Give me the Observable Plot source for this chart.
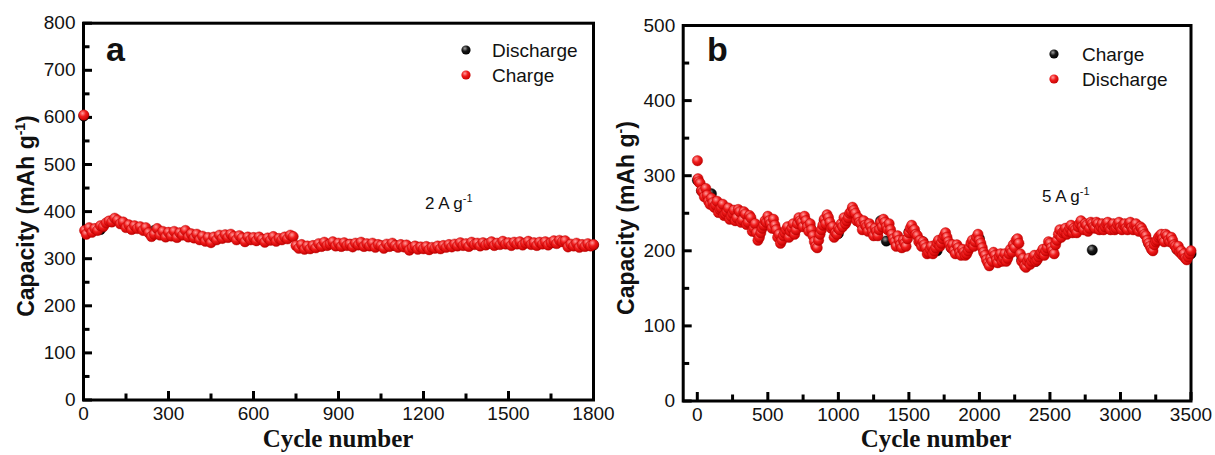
<!DOCTYPE html>
<html>
<head>
<meta charset="utf-8">
<script src="https://cdn.jsdelivr.net/npm/d3@7"></script>
<script src="https://cdn.jsdelivr.net/npm/@observablehq/plot@0.6"></script>
<style>
  body { margin: 0; background: #fff; }
  #wrap { position: relative; width: 1215px; height: 455px; overflow: hidden; background: #fff; }
  .panel { position: absolute; top: 0; }
  .panel svg text { font-size: 19px !important; font-family: 'Liberation Sans', Arial, sans-serif !important; fill: #111; }
  #ov { position: absolute; left: 0; top: 0; pointer-events: none; }
</style>
</head>
<body>
<div id="wrap">
  <div class="panel" id="pa" style="left:0px;width:620px"></div>
  <div class="panel" id="pb" style="left:607px;width:608px"></div>
  <svg id="ov" width="1215" height="455" xmlns="http://www.w3.org/2000/svg">
    <defs>
      <radialGradient id="ballR" cx="0.38" cy="0.33" r="0.7">
        <stop offset="0" stop-color="#ff9c9c"/>
        <stop offset="0.45" stop-color="#f01c1c"/>
        <stop offset="1" stop-color="#c20000"/>
      </radialGradient>
      <radialGradient id="ballK" cx="0.38" cy="0.33" r="0.7">
        <stop offset="0" stop-color="#a0a0a0"/>
        <stop offset="0.45" stop-color="#181818"/>
        <stop offset="1" stop-color="#000"/>
      </radialGradient>
    </defs>
    <g font-family="'Liberation Sans', Arial, sans-serif" fill="#111">
      <!-- panel a -->
      <text x="106" y="61" font-size="34" font-weight="bold">a</text>
      <circle cx="466" cy="50" r="4.6" fill="url(#ballK)"/>
      <circle cx="466" cy="75" r="4.6" fill="url(#ballR)"/>
      <text x="492" y="57" font-size="19">Discharge</text>
      <text x="492" y="82" font-size="19">Charge</text>
      <text x="425" y="209" font-size="17">2 A g<tspan font-size="11" dy="-7">-1</tspan></text>
      <text transform="translate(34,216) rotate(-90)" text-anchor="middle" font-size="23" font-weight="bold">Capacity (mAh g<tspan font-size="14" dy="-9">-1</tspan><tspan dy="9">)</tspan></text>
      <text x="338" y="447" text-anchor="middle" font-family="'Liberation Serif', 'Times New Roman', serif" font-size="25" font-weight="bold">Cycle number</text>
      <!-- panel b -->
      <text x="707" y="61" font-size="34" font-weight="bold">b</text>
      <circle cx="1054" cy="54" r="4.6" fill="url(#ballK)"/>
      <circle cx="1054" cy="79" r="4.6" fill="url(#ballR)"/>
      <text x="1082" y="61" font-size="19">Charge</text>
      <text x="1082" y="86" font-size="19">Discharge</text>
      <text x="1042" y="202" font-size="17">5 A g<tspan font-size="11" dy="-7">-1</tspan></text>
      <text transform="translate(634,218) rotate(-90)" text-anchor="middle" font-size="23" font-weight="bold">Capacity (mAh g<tspan font-size="14" dy="-9">-</tspan><tspan dy="9">)</tspan></text>
      <text x="936" y="447" text-anchor="middle" font-family="'Liberation Serif', 'Times New Roman', serif" font-size="25" font-weight="bold">Cycle number</text>
    </g>
  </svg>
</div>
<script>
// ---------------- Panel a (2 A g-1) ----------------
const aXTicks = [0, 300, 600, 900, 1200, 1500, 1800];
const aXMinor = [150, 450, 750, 1050, 1350, 1650];
const aYTicks = [0, 100, 200, 300, 400, 500, 600, 700, 800];
const aYMinor = [50, 150, 250, 350, 450, 550, 650, 750];

// Charge (red) in panel a
const aChargeCycles = [
  1, 4,
  10, 20, 30, 40, 50, 60, 70, 80, 90, 100,
  110, 120, 130, 140, 150, 160, 170, 180, 190, 200,
  210, 220, 230, 240, 250, 260, 270, 280, 290, 300,
  310, 320, 330, 340, 350, 360, 370, 380, 390, 400,
  410, 420, 430, 440, 450, 460, 470, 480, 490, 500,
  510, 520, 530, 540, 550, 560, 570, 580, 590, 600,
  610, 620, 630, 640, 650, 660, 670, 680, 690, 700,
  710, 720, 730, 740, 750, 760, 770, 780, 790, 800,
  810, 820, 830, 840, 850, 860, 870, 880, 890, 900,
  910, 920, 930, 940, 950, 960, 970, 980, 990, 1000,
  1010, 1020, 1030, 1040, 1050, 1060, 1070, 1080, 1090, 1100,
  1110, 1120, 1130, 1140, 1150, 1160, 1170, 1180, 1190, 1200,
  1210, 1220, 1230, 1240, 1250, 1260, 1270, 1280, 1290, 1300,
  1310, 1320, 1330, 1340, 1350, 1360, 1370, 1380, 1390, 1400,
  1410, 1420, 1430, 1440, 1450, 1460, 1470, 1480, 1490, 1500,
  1510, 1520, 1530, 1540, 1550, 1560, 1570, 1580, 1590, 1600,
  1610, 1620, 1630, 1640, 1650, 1660, 1670, 1680, 1690, 1700,
  1710, 1720, 1730, 1740, 1750, 1760, 1770, 1780, 1790, 1800];
const aCharge = [
  605, 360,
  352, 366, 356, 364, 360, 370, 368, 376, 380, 378,
  386, 382, 374, 378, 366, 372, 362, 370, 364, 368,
  360, 366, 355, 347, 352, 364, 350, 358, 346, 356,
  348, 358, 345, 355, 350, 360, 346, 353, 344, 352,
  340, 348, 337, 345, 334, 346, 340, 350, 343, 351,
  345, 352, 347, 340, 349, 344, 336, 346, 340, 345,
  338, 346, 341, 335, 344, 339, 347, 337, 343, 340,
  346, 342, 350, 347, 328, 322, 330, 320, 327, 321,
  328, 323, 332, 326, 335, 328, 331, 336, 327, 333,
  326, 334, 328, 331, 325, 333, 329, 335, 326, 332,
  327, 333, 324, 330, 328, 322, 331, 326, 333, 328,
  324, 330, 325, 329, 318, 323, 327, 320, 325, 321,
  326, 319, 324, 322, 327, 321, 328, 324, 330, 325,
  331, 327, 334, 328, 332, 326, 335, 330, 333, 327,
  334, 329, 332, 336, 328, 333, 330, 337, 331, 334,
  328, 335, 331, 336, 329, 333, 337, 330, 334, 328,
  335, 331, 336, 329, 334, 338, 332, 339, 336, 338,
  325, 331, 327, 333, 324, 330, 326, 332, 327, 330];

// Discharge (black) in panel a, mostly hidden under the red points
const aDischargeCycles = [1, 20, 60, 100, 140, 180, 250, 320, 400, 480,
  560, 640, 720, 780, 860, 940, 1020, 1100, 1180, 1260,
  1340, 1420, 1500, 1580, 1660, 1740, 1800];
const aDischarge = [603, 360, 362, 380, 376, 366, 360, 352, 348, 346,
  344, 340, 345, 325, 330, 330, 329, 328, 324, 324,
  330, 331, 332, 332, 334, 328, 329];

// ---------------- Panel b (5 A g-1) ----------------
const bXTicks = [0, 500, 1000, 1500, 2000, 2500, 3000, 3500];
const bXMinor = [250, 750, 1250, 1750, 2250, 2750, 3250];
const bYTicks = [0, 100, 200, 300, 400, 500];
const bYMinor = [50, 150, 250, 350, 450];

// Discharge (red) in panel b
const bDischargeCycles = [
  1, 5,
  10, 20, 30, 40, 50, 60, 70, 80, 90, 100,
  110, 120, 130, 140, 150, 160, 170, 180, 190, 200,
  210, 220, 230, 240, 250, 260, 270, 280, 290, 300,
  310, 320, 330, 340, 350, 360, 370, 380, 390, 400,
  410, 420, 430, 440, 450, 460, 470, 480, 490, 500,
  510, 520, 530, 540, 550, 560, 570, 580, 590, 600,
  610, 620, 630, 640, 650, 660, 670, 680, 690, 700,
  710, 720, 730, 740, 750, 760, 770, 780, 790, 800,
  810, 820, 830, 840, 850, 860, 870, 880, 890, 900,
  910, 920, 930, 940, 950, 960, 970, 980, 990, 1000,
  1010, 1020, 1030, 1040, 1050, 1060, 1070, 1080, 1090, 1100,
  1110, 1120, 1130, 1140, 1150, 1160, 1170, 1180, 1190, 1200,
  1210, 1220, 1230, 1240, 1250, 1260, 1270, 1280, 1290, 1300,
  1310, 1320, 1330, 1340, 1350, 1360, 1370, 1380, 1390, 1400,
  1410, 1420, 1430, 1440, 1450, 1460, 1470, 1480, 1490, 1500,
  1510, 1520, 1530, 1540, 1550, 1560, 1570, 1580, 1590, 1600,
  1610, 1620, 1630, 1640, 1650, 1660, 1670, 1680, 1690, 1700,
  1710, 1720, 1730, 1740, 1750, 1760, 1770, 1780, 1790, 1800,
  1810, 1820, 1830, 1840, 1850, 1860, 1870, 1880, 1890, 1900,
  1910, 1920, 1930, 1940, 1950, 1960, 1970, 1980, 1990, 2000,
  2010, 2020, 2030, 2040, 2050, 2060, 2070, 2080, 2090, 2100,
  2110, 2120, 2130, 2140, 2150, 2160, 2170, 2180, 2190, 2200,
  2210, 2220, 2230, 2240, 2250, 2260, 2270, 2280, 2290, 2300,
  2310, 2320, 2330, 2340, 2350, 2360, 2370, 2380, 2390, 2400,
  2410, 2420, 2430, 2440, 2450, 2460, 2470, 2480, 2490, 2500,
  2510, 2520, 2530, 2540, 2550, 2560, 2570, 2580, 2590, 2600,
  2610, 2620, 2630, 2640, 2650, 2660, 2670, 2680, 2690, 2700,
  2710, 2720, 2730, 2740, 2750, 2760, 2770, 2780, 2790, 2800,
  2810, 2820, 2830, 2840, 2850, 2860, 2870, 2880, 2890, 2900,
  2910, 2920, 2930, 2940, 2950, 2960, 2970, 2980, 2990, 3000,
  3010, 3020, 3030, 3040, 3050, 3060, 3070, 3080, 3090, 3100,
  3110, 3120, 3130, 3140, 3150, 3160, 3170, 3180, 3190, 3200,
  3210, 3220, 3230, 3240, 3250, 3260, 3270, 3280, 3290, 3300,
  3310, 3320, 3330, 3340, 3350, 3360, 3370, 3380, 3390, 3400,
  3410, 3420, 3430, 3440, 3450, 3460, 3470, 3480, 3490, 3500];
const bDischarge = [
  320, 296,
  292, 290, 280, 278, 272, 283, 274, 266, 262, 270,
  264, 258, 261, 266, 251, 255, 257, 262, 247, 249,
  252, 257, 242, 246, 250, 254, 240, 244, 255, 252,
  238, 241, 252, 249, 235, 238, 247, 244, 226, 230,
  236, 224, 214, 218, 224, 230, 234, 240, 238, 246,
  240, 236, 230, 242, 234, 228, 218, 222, 210, 214,
  220, 224, 228, 232, 218, 226, 230, 236, 222, 228,
  236, 244, 240, 238, 232, 246, 240, 232, 226, 236,
  228, 220, 212, 206, 204, 214, 222, 228, 234, 242,
  236, 248, 244, 238, 230, 232, 218, 224, 222, 230,
  228, 236, 232, 244, 236, 240, 244, 250, 252, 258,
  254, 250, 240, 244, 238, 236, 228, 240, 234, 232,
  226, 236, 232, 226, 220, 230, 226, 220, 228, 238,
  232, 242, 238, 232, 228, 236, 228, 222, 216, 212,
  206, 220, 214, 208, 204, 214, 210, 206, 216, 224,
  230, 234, 226, 228, 222, 220, 212, 214, 206, 212,
  208, 204, 196, 198, 202, 206, 196, 200, 204, 210,
  214, 206, 210, 216, 220, 224, 218, 212, 208, 204,
  208, 200, 196, 208, 204, 198, 194, 202, 198, 194,
  196, 200, 204, 210, 214, 206, 212, 218, 222, 214,
  210, 204, 198, 194, 188, 184, 180, 190, 186, 198,
  194, 188, 184, 192, 196, 186, 190, 196, 186, 190,
  196, 202, 198, 208, 204, 214, 216, 210, 196, 186,
  190, 180, 178, 186, 190, 182, 186, 190, 194, 186,
  188, 192, 196, 198, 202, 194, 200, 204, 212, 210,
  204, 200, 196, 208, 214, 222, 228, 218, 224, 226,
  230, 222, 226, 230, 234, 224, 230, 228, 224, 232,
  236, 240, 232, 228, 236, 234, 226, 230, 238, 236,
  232, 230, 238, 236, 228, 232, 236, 228, 232, 236,
  238, 230, 228, 234, 236, 228, 230, 235, 238, 231,
  228, 234, 236, 230, 228, 236, 238, 231, 228, 234,
  236, 228, 226, 232, 230, 226, 222, 220, 214, 210,
  206, 202, 200, 208, 212, 214, 218, 220, 222, 216,
  212, 222, 220, 214, 212, 218, 214, 208, 206, 202,
  206, 198, 200, 194, 196, 190, 188, 192, 196, 200];

// Charge (black) in panel b, mostly hidden, a few visible outliers
const bChargeCycles = [1, 30, 100, 200, 300, 400, 500, 600, 700, 800,
  900, 1000, 1100, 1200, 1300, 1340, 1400, 1500, 1600, 1700,
  1800, 1900, 2000, 2100, 2200, 2300, 2400, 2500, 2600, 2700,
  2800, 2900, 3000, 3100, 3200, 3300, 3400, 3500];
const bCharge = [294, 280, 276, 250, 246, 232, 238, 216, 235, 232,
  240, 223, 255, 236, 240, 213, 212, 225, 212, 200,
  204, 196, 216, 196, 192, 188, 186, 210, 226, 232,
  201, 236, 233, 233, 210, 220, 202, 196];

// ---------------- drawing ----------------
const RED = "#ee1c1c", BLACK = "#141414";
const H = 455;

function rows(cycles, values) {
  return cycles.map((c, i) => ({cycle: c, capacity: values[i]}));
}

function panel(cfg) {
  const {width, ml, mr, mt, mb, xDom, yDom, xTicks, xMinor, yTicks, yMinor, black, red} = cfg;
  const kx = (xDom[1] - xDom[0]) / (width - ml - mr); // data units per px
  const ky = (yDom[1] - yDom[0]) / (H - mt - mb);
  const tick = {stroke: "#000", strokeWidth: 3};
  return Plot.plot({
    width, height: H,
    marginLeft: ml, marginRight: mr, marginTop: mt, marginBottom: mb,
    style: {
      background: "transparent", overflow: "visible", color: "#111",
      fontFamily: "'Liberation Sans', Arial, sans-serif", fontSize: "19px"
    },
    x: {domain: xDom, ticks: xTicks, tickSize: 0, tickPadding: 6, tickFormat: d3.format("d"), label: null},
    y: {domain: yDom, ticks: yTicks, tickSize: 0, tickPadding: 8, tickFormat: d3.format("d"), label: null},
    marks: [
      Plot.frame({stroke: "#000", strokeWidth: 3}),
      Plot.ruleX(xTicks, {y1: yDom[0], y2: yDom[0] + 8.5 * ky, ...tick}),
      Plot.ruleX(xMinor, {y1: yDom[0], y2: yDom[0] + 6 * ky, ...tick}),
      Plot.ruleY(yTicks, {x1: xDom[0], x2: xDom[0] + 9 * kx, ...tick}),
      Plot.ruleY(yMinor, {x1: xDom[0], x2: xDom[0] + 6.5 * kx, ...tick}),
      Plot.dot(black, {x: "cycle", y: "capacity", r: 5.2, fill: BLACK, stroke: "#000", strokeWidth: 0.4}),
      Plot.dot(red, {x: "cycle", y: "capacity", r: 5.2, fill: RED, stroke: "#b50000", strokeWidth: 0.4})
    ]
  });
}

const svgA = panel({
  width: 620, ml: 83, mr: 27, mt: 22.7, mb: 455 - 399.5,
  xDom: [0, 1800], yDom: [0, 800],
  xTicks: aXTicks, xMinor: aXMinor, yTicks: aYTicks, yMinor: aYMinor,
  black: rows(aDischargeCycles, aDischarge),
  red: rows(aChargeCycles, aCharge)
});
const svgB = panel({
  width: 608, ml: 682.7 - 607, mr: 1215 - 1190.5, mt: 25, mb: 455 - 400.5,
  xDom: [-100, 3500], yDom: [0, 500],
  xTicks: bXTicks, xMinor: bXMinor, yTicks: bYTicks, yMinor: bYMinor,
  black: rows(bChargeCycles, bCharge),
  red: rows(bDischargeCycles, bDischarge)
});

for (const svg of [svgA, svgB]) {
  svg.querySelectorAll(`g[fill="${RED}"]`).forEach(g => g.setAttribute("fill", "url(#ballR)"));
  svg.querySelectorAll(`g[fill="${BLACK}"]`).forEach(g => g.setAttribute("fill", "url(#ballK)"));
}
document.getElementById("pa").appendChild(svgA);
document.getElementById("pb").appendChild(svgB);
</script>
</body>
</html>
